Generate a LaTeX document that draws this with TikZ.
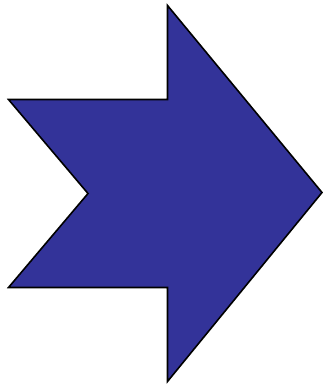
\documentclass[tikz,border=0pt]{standalone}
\usepackage{tikz}
\definecolor{arrowblue}{RGB}{51,51,153}

\begin{document}
\begin{tikzpicture}[x=0.75pt,y=-0.75pt]
  \useasboundingbox (0,0) rectangle (323,384);
  \draw[fill=arrowblue,line width=1.2pt,line join=miter]
    (8.5,99.5)--(167.5,99.5)--(167.5,5.5)--(322,192.5)--(167.5,381.5)
    --(167.5,287.5)--(8.5,287.5)--(88,193.5)--cycle;
\end{tikzpicture}
\end{document}
